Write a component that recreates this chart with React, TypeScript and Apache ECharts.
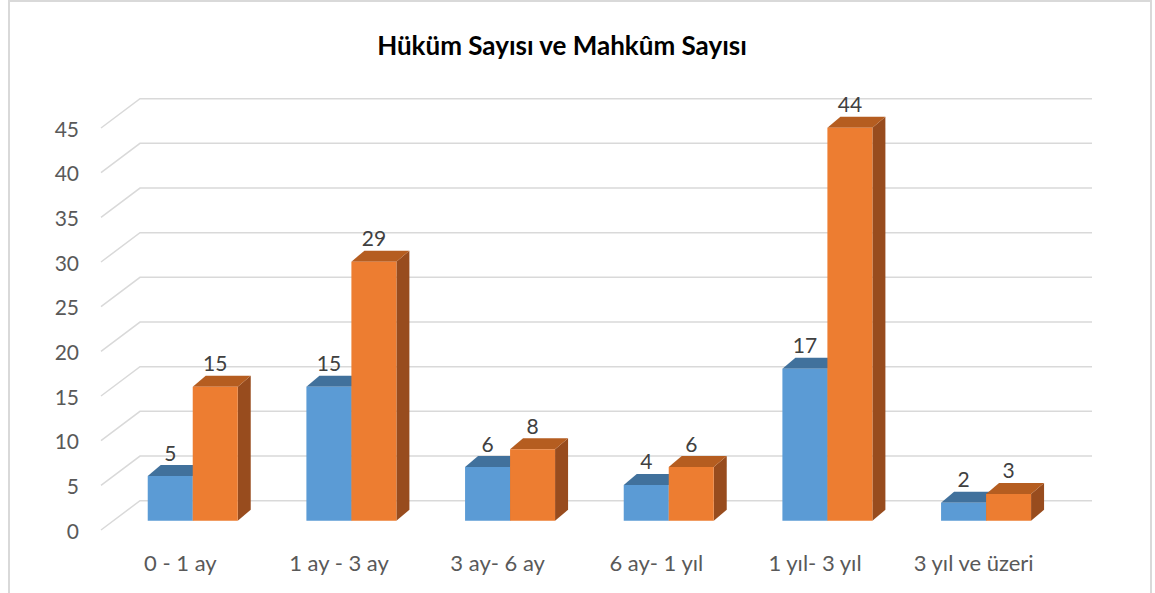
import React, { useEffect, useRef } from "react";
import * as echarts from "echarts";

const categories = ["0 - 1 ay", "1 ay - 3 ay", "3 ay- 6 ay", "6 ay- 1 yıl", "1 yıl- 3 yıl", "3 yıl ve üzeri"];
const seriesNames = ["Hüküm Sayısı", "Mahkûm Sayısı"];
const hukumValues = [5, 15, 6, 4, 17, 2];
const mahkumValues = [15, 29, 8, 6, 44, 3];
const yTicks = [0, 5, 10, 15, 20, 25, 30, 35, 40, 45];
const titleText = "Hüküm Sayısı ve Mahkûm Sayısı";

const FONT = "Lato, 'Noto Sans', sans-serif";
// 3D geometry (pixels)
const BACK_DX = 39, BACK_DY = -29.3;     // back wall offset from front plane
const BAR_DX = 12.4, BAR_DY = -9.3;      // bar front-face plane offset from front plane
const DEPTH_DX = 13, DEPTH_DY = -11;     // bar depth
const BAR_W = 45;

const palettes = [
  { front: "#5B9BD5", top: "#41719C", side: "#3A6690" },
  { front: "#ED7D31", top: "#B55D20", side: "#984C1E" },
];

function makeBarSeries(name: string, values: number[], idx: number) {
  const pal = palettes[idx];
  return {
    type: "custom",
    name,
    clip: false,
    z: 3 + idx,
    encode: { x: 0, y: 1 },
    data: values.map((v, i) => [i, v]),
    renderItem: (params: any, api: any) => {
      const ci = api.value(0);
      const v = api.value(1);
      const base = api.coord([ci, 0]);
      const top = api.coord([ci, v]);
      const cx = base[0] + BAR_DX;
      const x0 = idx === 0 ? cx - BAR_W : cx;
      const x1 = x0 + BAR_W;
      const yb = base[1] + BAR_DY;
      const yt = top[1] + BAR_DY;
      return {
        type: "group",
        children: [
          {
            type: "polygon",
            shape: { points: [[x1, yb], [x1 + DEPTH_DX, yb + DEPTH_DY], [x1 + DEPTH_DX, yt + DEPTH_DY], [x1, yt]] },
            style: { fill: pal.side },
          },
          {
            type: "polygon",
            shape: { points: [[x0, yt], [x0 + DEPTH_DX, yt + DEPTH_DY], [x1 + DEPTH_DX, yt + DEPTH_DY], [x1, yt]] },
            style: { fill: pal.top },
          },
          {
            type: "rect",
            shape: { x: x0, y: yt, width: BAR_W, height: yb - yt },
            style: { fill: pal.front },
          },
          {
            type: "text",
            style: {
              text: String(v),
              x: (x0 + x1) / 2,
              y: yt - 24,
              align: "center",
              verticalAlign: "middle",
              fill: "#404040",
              font: `21px ${FONT}`,
            },
          },
        ],
      };
    },
  };
}

export default function App() {
  const ref = useRef<HTMLDivElement>(null);
  useEffect(() => {
    if (!ref.current) return;
    const chart = echarts.init(ref.current, undefined, { renderer: "svg" });
    chart.setOption({
      animation: false,
      backgroundColor: "#ffffff",
      grid: { left: 101, right: 102, top: 128, bottom: 63, containLabel: false },
      xAxis: {
        type: "category",
        data: categories,
        axisLine: { show: false },
        axisTick: { show: false },
        axisLabel: { color: "#595959", fontSize: 22, fontFamily: FONT, margin: 21 },
      },
      yAxis: {
        type: "value",
        min: 0,
        max: 45,
        interval: 5,
        splitLine: { show: false },
        axisLine: { show: false },
        axisTick: { show: false },
        axisLabel: { color: "#595959", fontSize: 21, fontFamily: FONT, margin: 22 },
      },
      graphic: [
        {
          type: "rect",
          shape: { x: 9, y: 1, width: 1142, height: 620 },
          style: { fill: "none", stroke: "#D9D9D9", lineWidth: 2 },
          silent: true,
        },
        {
          type: "text",
          x: 562,
          y: 45,
          style: {
            text: titleText,
            align: "center",
            verticalAlign: "middle",
            fill: "#000000",
            font: `bold 26px ${FONT}`,
          },
        },
      ],
      series: [
        {
          type: "custom",
          name: "grid",
          clip: false,
          z: 1,
          silent: true,
          encode: { x: 0, y: 1 },
          data: yTicks.map((t) => [0, t]),
          renderItem: (params: any, api: any) => {
            const cs = params.coordSys;
            const y = api.coord([0, api.value(1)])[1];
            const x = cs.x;
            return {
              type: "polyline",
              shape: {
                points: [
                  [x, y],
                  [x + BACK_DX, y + BACK_DY],
                  [x + cs.width + BACK_DX, y + BACK_DY],
                ],
              },
              style: { stroke: "#D9D9D9", lineWidth: 1.5, fill: "none" },
            };
          },
        },
        makeBarSeries(seriesNames[0], hukumValues, 0),
        makeBarSeries(seriesNames[1], mahkumValues, 1),
      ],
    });
    return () => chart.dispose();
  }, []);
  return (
    <div
      ref={ref}
      style={{ position: "fixed", left: 0, top: 0, width: 1155, height: 593 }}
    />
  );
}
